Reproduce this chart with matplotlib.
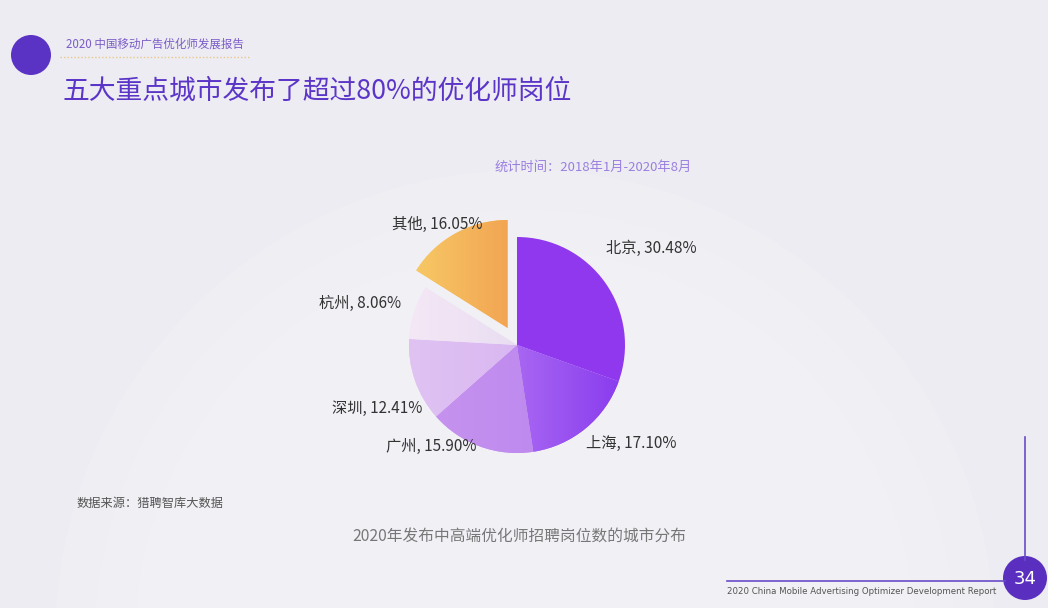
import numpy as np
import matplotlib
matplotlib.use("Agg")
import matplotlib.pyplot as plt
from matplotlib.patches import Circle
from matplotlib.colors import LinearSegmentedColormap

plt.rcParams["font.family"] = ["Noto Sans CJK SC", "DejaVu Sans"]

# data
cities = ["北京", "上海", "广州", "深圳", "杭州", "其他"]
shares = [30.48, 17.10, 15.90, 12.41, 8.06, 16.05]
explode = [0, 0, 0, 0, 0, 0.18]
# gradient colours per slice (left colour, right colour)
slice_colors = [("#9038EE", "#9038EE"), ("#A866F2", "#8A3DEE"), ("#C692EF", "#BE8AEE"),
                ("#E0C2F3", "#D9B8F1"), ("#F4E8F6", "#E9DDF2"), ("#F7C865", "#F2A553")]
# label placement in pixels (text centre)
label_pos = [(651, 248), (631, 443), (431, 446), (377, 408), (360, 303), (437, 224)]

W, H = 1048, 608
fig = plt.figure(figsize=(W / 100, H / 100), dpi=100)
fig.patch.set_facecolor("#EDECF2")

def fx(x):
    return x / W

def fy(y):
    return 1 - y / H

# background decoration
bg = fig.add_axes([0, 0, 1, 1])
bg.set_xlim(0, W)
bg.set_ylim(H, 0)
bg.axis("off")
for r, a in [(470, 0.12), (430, 0.1), (390, 0.1)]:
    bg.add_patch(Circle((525, 640), r, facecolor="white", edgecolor="none", alpha=a))
bg.add_patch(Circle((31, 55), 20, facecolor="#5B33C4", edgecolor="none"))
bg.plot([60, 250], [57, 57], ls=(0, (1, 1.5)), color="#E8C88A", lw=1)
bg.plot([1025, 1025], [437, 560], color="#6A4CC8", lw=1.2)
bg.plot([727, 1005], [581, 581], color="#6A4CC8", lw=1.2)
bg.add_patch(Circle((1025, 578), 22, facecolor="#5A2FC0", edgecolor="none"))
bg.text(1025, 579, "34", color="white", fontsize=13, ha="center", va="center", family="DejaVu Sans")

fig.text(fx(66), fy(44), "2020 中国移动广告优化师发展报告", fontsize=8.3, color="#7A5CC8", va="center")
fig.text(fx(62), fy(91), "五大重点城市发布了超过80%的优化师岗位", fontsize=19.3, color="#5B35C8", va="center")
fig.text(fx(692), fy(167), "统计时间：2018年1月-2020年8月", fontsize=9.5, color="#9A7FE0", va="center", ha="right")
fig.text(fx(77), fy(503), "数据来源：猎聘智库大数据", fontsize=8.8, color="#555555", va="center")
fig.text(fx(519), fy(537), "2020年发布中高端优化师招聘岗位数的城市分布", fontsize=11.3, color="#777777",
         va="center", ha="center")
fig.text(fx(727), fy(592), "2020 China Mobile Advertising Optimizer Development Report", fontsize=6.2,
         color="#555555", va="center", family="DejaVu Sans")

# pie
cx, cy, R = 517, 345, 108
side = 2.6 * R
ax = fig.add_axes([fx(cx - side / 2), fy(cy + side / 2), side / W, side / H])
ax.set_xlim(-1.3, 1.3)
ax.set_ylim(-1.3, 1.3)
ax.set_aspect("equal")
ax.axis("off")

wedges, _ = ax.pie(shares, explode=explode, startangle=90, counterclock=False, radius=1,
                   colors=[c[0] for c in slice_colors], wedgeprops=dict(linewidth=0))
grad = np.linspace(0, 1, 256).reshape(1, -1)
for w, (c1, c2) in zip(wedges, slice_colors):
    if c1 == c2:
        continue
    cmap = LinearSegmentedColormap.from_list("g", [c1, c2])
    b = ax.transData.inverted().transform(w.get_window_extent())
    im = ax.imshow(grad, cmap=cmap, aspect="auto", extent=[b[0][0], b[1][0], b[0][1], b[1][1]], zorder=2)
    im.set_clip_path(w)
ax.set_xlim(-1.3, 1.3)
ax.set_ylim(-1.3, 1.3)

for name, val, (px, py) in zip(cities, shares, label_pos):
    fig.text(fx(px), fy(py), f"{name}, {val:.2f}%", fontsize=11, color="#333333", ha="center", va="center")

fig.savefig("out.png", dpi=100, facecolor=fig.get_facecolor())
